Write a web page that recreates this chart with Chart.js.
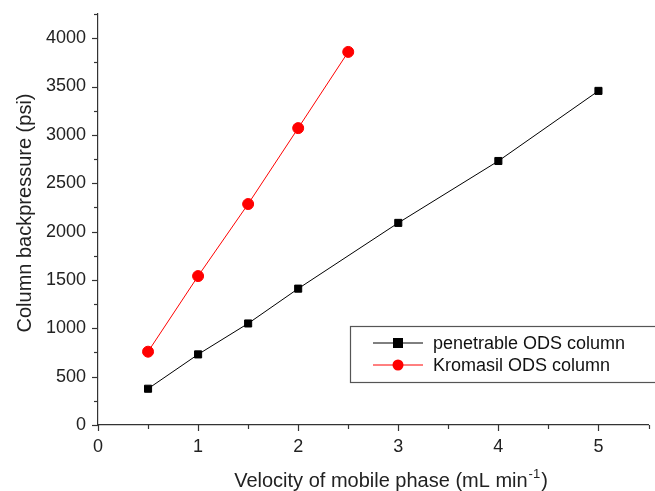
<!DOCTYPE html>
<html><head><meta charset="utf-8">
<script src="https://cdn.jsdelivr.net/npm/chart.js@4/dist/chart.umd.min.js"></script>
<style>html,body{margin:0;padding:0;background:#fff}#c{display:block}</style>
</head><body>
<canvas id="c" width="655" height="491"></canvas>
<script>
const penetrableX = [0.5, 1, 1.5, 2, 3, 4, 5];
const penetrableY = [375, 730, 1050, 1410, 2090, 2730, 3455];
const kromasilX = [0.5, 1, 1.5, 2, 2.5];
const kromasilY = [758, 1540, 2285, 3070, 3858];
const seriesNames = ['penetrable ODS column', 'Kromasil ODS column'];
const xTitleMain = 'Velocity of mobile phase (mL min';
const xTitleSup = '-1';
const xTitleEnd = ')';
const yTitle = 'Column backpressure (psi)';
const FONT = "'Liberation Sans', Arial, sans-serif";

const decoPlugin = {
  id: 'deco',
  afterDraw(chart) {
    const ctx = chart.ctx, xs = chart.scales.x, ys = chart.scales.y;
    ctx.save();
    ctx.strokeStyle = '#333'; ctx.lineWidth = 1.2;
    for (let v = 0; v <= 5.5001; v += 0.5) {
      const px = Math.round(xs.getPixelForValue(v)) + 0.5;
      const major = Math.abs(v - Math.round(v)) < 1e-6;
      ctx.beginPath(); ctx.moveTo(px, ys.bottom); ctx.lineTo(px, ys.bottom + (major ? 6 : 4)); ctx.stroke();
    }
    for (let v = 0; v <= 4250; v += 250) {
      const py = Math.round(ys.getPixelForValue(v)) + 0.5;
      const major = v % 500 === 0;
      ctx.beginPath(); ctx.moveTo(xs.left, py); ctx.lineTo(xs.left - (major ? 6 : 4), py); ctx.stroke();
    }
    // axis titles
    ctx.fillStyle = '#222';
    ctx.font = '20px ' + FONT; ctx.textBaseline = 'alphabetic';
    const w1 = ctx.measureText(xTitleMain).width;
    ctx.font = '13px ' + FONT;
    const w2 = ctx.measureText(xTitleSup).width;
    ctx.font = '20px ' + FONT;
    const w3 = ctx.measureText(xTitleEnd).width;
    let sx = 390 - (w1 + w2 + w3) / 2;
    const base = 487;
    ctx.textAlign = 'left';
    ctx.fillText(xTitleMain, sx, base);
    ctx.font = '13px ' + FONT;
    ctx.fillText(xTitleSup, sx + w1 + 1, base - 9);
    ctx.font = '20px ' + FONT;
    ctx.fillText(xTitleEnd, sx + w1 + w2 + 2, base);

    ctx.save();
    ctx.translate(25, 213); ctx.rotate(-Math.PI / 2);
    ctx.font = '20px ' + FONT; ctx.textAlign = 'center'; ctx.textBaseline = 'middle';
    ctx.fillText(yTitle, 0, 0);
    ctx.restore();

    // legend
    const bx = 350.5, by = 326.5, bw = 320, bh = 56;
    ctx.strokeStyle = '#555'; ctx.lineWidth = 1.2;
    ctx.strokeRect(bx, by, bw, bh);
    const rows = [{y: 343, color: '#000', shape: 'rect'}, {y: 365, color: '#f00', shape: 'circle'}];
    rows.forEach((r, i) => {
      ctx.strokeStyle = r.color; ctx.lineWidth = 1;
      ctx.beginPath(); ctx.moveTo(373, r.y); ctx.lineTo(423, r.y); ctx.stroke();
      ctx.fillStyle = r.color;
      if (r.shape === 'rect') ctx.fillRect(393, r.y - 5, 10, 10);
      else { ctx.beginPath(); ctx.arc(398, r.y, 5.5, 0, Math.PI * 2); ctx.fill(); }
      ctx.fillStyle = '#111'; ctx.font = '18px ' + FONT; ctx.textBaseline = 'middle'; ctx.textAlign = 'left';
      ctx.fillText(seriesNames[i], 433, r.y + 1);
    });
    ctx.restore();
  }
};

new Chart(document.getElementById('c'), {
  type: 'scatter',
  data: {
    datasets: [
      {label: seriesNames[0], data: penetrableX.map((x, i) => ({x, y: penetrableY[i]})), showLine: true,
       borderColor: '#000', backgroundColor: '#000', borderWidth: 1, pointStyle: 'rect', pointRadius: 5, pointHoverRadius: 5},
      {label: seriesNames[1], data: kromasilX.map((x, i) => ({x, y: kromasilY[i]})), showLine: true,
       borderColor: '#f00', backgroundColor: '#f00', borderWidth: 1, pointStyle: 'circle', pointRadius: 5.5, pointHoverRadius: 5.5}
    ]
  },
  options: {
    responsive: false, animation: false, devicePixelRatio: 1,
    layout: {padding: {top: 14, right: 0, left: 0, bottom: 0}},
    plugins: {legend: {display: false}, tooltip: {enabled: false}},
    scales: {
      x: {
        type: 'linear', min: 0, max: 5.5,
        afterFit(s) { s.height = 66; s.paddingRight = 0; s.paddingLeft = 0; },
        grid: {drawOnChartArea: false, drawTicks: false},
        border: {display: true, color: '#333', width: 1.2},
        ticks: {stepSize: 0.5, padding: 11, color: '#222', font: {family: FONT, size: 18},
          callback: v => Math.abs(v - Math.round(v)) < 1e-6 ? String(Math.round(v)) : ''},
        title: {display: false}
      },
      y: {
        type: 'linear', min: 0, max: 4250,
        afterFit(s) { s.width = 98; s.paddingTop = 0; s.paddingBottom = 0; },
        grid: {drawOnChartArea: false, drawTicks: false},
        border: {display: true, color: '#333', width: 1.2},
        ticks: {stepSize: 250, padding: 12, color: '#222', font: {family: FONT, size: 18},
          callback: v => v % 500 === 0 ? String(v) : ''},
        title: {display: false}
      }
    }
  },
  plugins: [decoPlugin]
});
</script>
</body></html>
